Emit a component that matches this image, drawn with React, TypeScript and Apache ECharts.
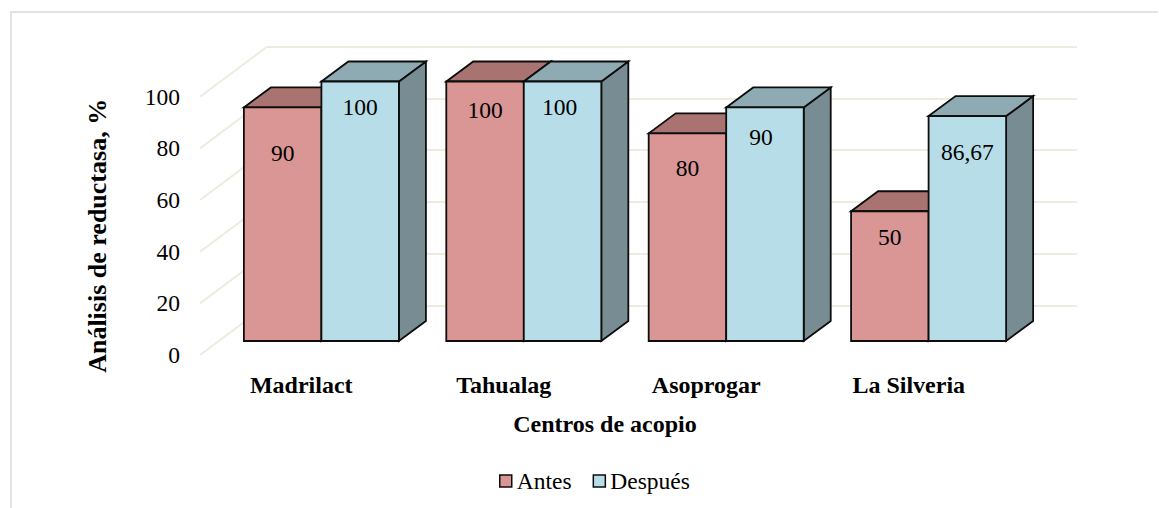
import React, { useEffect, useRef } from "react";
import * as echarts from "echarts";

const categories = ["Madrilact", "Tahualag", "Asoprogar", "La Silveria"];
const antes = [90, 100, 80, 50];
const despues = [100, 100, 90, 86.67];
const yTicks = [0, 20, 40, 60, 80, 100];

// Hand-placed label offsets (px from the bar's front-face top centre), as in the reference
const antesLabelDrop = [46, 28, 35, 26];
const antesLabelShift = [0, 0, 0, 0];
const despuesLabelDrop = [25.5, 25, 30, 36];
const despuesLabelShift = [0, -3, -4, 0];

const FONT = '"Liberation Serif", "Times New Roman", serif';
const FS = 23.5;
const FS_BOLD = 24;
const DEPTH_X = 27;
const DEPTH_Y = 20;
const WALL_X = 67;
const WALL_Y = 50;
const BAR_RATIO = 0.383;
const STROKE = { stroke: "#0d0d0d", lineWidth: 1.8, lineJoin: "miter" as const };
const GRIDLINE = "#eeecdf";

function barRenderer(side: number, front: string, top: string, right: string, drops: number[], shifts: number[]) {
  return (params: any, api: any) => {
    const i = api.value(0);
    const v = api.value(1);
    const [cx, yt] = api.coord([i, v]);
    const [, yb] = api.coord([i, 0]);
    const w = api.size([1, 0])[0] * BAR_RATIO;
    const x0 = side < 0 ? cx - w : cx;
    const x1 = x0 + w;
    const poly = (points: number[][], fill: string) => ({
      type: "polygon",
      shape: { points },
      style: { fill, ...STROKE },
    });
    return {
      type: "group",
      children: [
        poly([[x1, yt], [x1 + DEPTH_X, yt - DEPTH_Y], [x1 + DEPTH_X, yb - DEPTH_Y], [x1, yb]], right),
        poly([[x0, yt], [x0 + DEPTH_X, yt - DEPTH_Y], [x1 + DEPTH_X, yt - DEPTH_Y], [x1, yt]], top),
        poly([[x0, yt], [x1, yt], [x1, yb], [x0, yb]], front),
        {
          type: "text",
          x: (x0 + x1) / 2 + shifts[i],
          y: yt + drops[i],
          style: {
            text: String(v).replace(".", ","),
            align: "center",
            verticalAlign: "middle",
            textAlign: "center",
            textVerticalAlign: "middle",
            fill: "#000",
            fontSize: FS,
            fontFamily: FONT,
          },
        },
      ],
    };
  };
}

function wallRenderer(params: any, api: any) {
  const y = api.coord([0, api.value(0)])[1];
  const x = params.coordSys.x;
  return {
    type: "line",
    shape: { x1: x, y1: y, x2: x + WALL_X, y2: y - WALL_Y },
    style: { stroke: GRIDLINE, lineWidth: 2 },
  };
}

export default function App() {
  const ref = useRef<HTMLDivElement>(null);
  useEffect(() => {
    const chart = echarts.init(ref.current!, undefined, { renderer: "svg" });
    const hiddenCat = {
      type: "category" as const,
      data: categories,
      show: false,
    };
    chart.setOption({
      animation: false,
      backgroundColor: "#fff",
      textStyle: { fontFamily: FONT },
      graphic: [
        {
          type: "polyline",
          silent: true,
          shape: { points: [[11, 508], [11, 12], [1158, 12]] },
          style: { stroke: "#d9d9d9", lineWidth: 1.5, fill: "none" },
        },
      ],
      legend: {
        left: 494,
        top: 464,
        itemWidth: 12,
        itemHeight: 12,
        itemGap: 21,
        selectedMode: false,
        textStyle: { fontFamily: FONT, fontSize: FS, color: "#000" },
        data: [
          { name: "Antes", icon: "rect", itemStyle: { color: "#d99694", borderColor: "#0d0d0d", borderWidth: 1.5 } },
          { name: "Después", icon: "rect", itemStyle: { color: "#b7dee8", borderColor: "#0d0d0d", borderWidth: 1.5 } },
        ],
      },
      grid: [
        { left: 200, top: 96.7, width: 810, height: 258.3 },
        { left: 267, top: 46.7, width: 810, height: 258.8 },
        { left: 220.2, top: 81.5, width: 809.6, height: 259.5 },
      ],
      xAxis: [
        {
          type: "category",
          gridIndex: 0,
          data: categories,
          axisLine: { show: false },
          axisTick: { show: false },
          axisLabel: { margin: 18, fontFamily: FONT, fontSize: FS_BOLD, fontWeight: "bold", color: "#000", interval: 0 },
          name: "Centros de acopio",
          nameLocation: "middle",
          nameGap: 57,
          nameTextStyle: { fontFamily: FONT, fontSize: FS_BOLD, fontWeight: "bold", color: "#000" },
        },
        { ...hiddenCat, gridIndex: 1 },
        { ...hiddenCat, gridIndex: 2 },
      ],
      yAxis: [
        {
          type: "value",
          gridIndex: 0,
          min: 0,
          max: 100,
          interval: 20,
          axisLine: { show: false },
          axisTick: { show: false },
          splitLine: { show: false },
          axisLabel: { margin: 20, fontFamily: FONT, fontSize: FS, color: "#000" },
          name: "Análisis de reductasa, %",
          nameLocation: "middle",
          nameGap: 90,
          nameTextStyle: { fontFamily: FONT, fontSize: 26, fontWeight: "bold", color: "#000", padding: [0, 20, 0, 0] },
        },
        {
          type: "value",
          gridIndex: 1,
          min: 0,
          max: 100,
          interval: 20,
          axisLine: { show: false },
          axisTick: { show: false },
          axisLabel: { show: false },
          splitLine: { show: true, lineStyle: { color: GRIDLINE, width: 2 } },
        },
        {
          type: "value",
          gridIndex: 2,
          min: 0,
          max: 100,
          interval: 20,
          show: false,
          splitLine: { show: false },
        },
      ],
      series: [
        {
          type: "custom",
          name: "pared",
          xAxisIndex: 0,
          yAxisIndex: 0,
          silent: true,
          clip: false,
          data: yTicks.map((v) => [v]),
          encode: { y: 0 },
          renderItem: wallRenderer,
        },
        {
          type: "custom",
          name: "Antes",
          xAxisIndex: 2,
          yAxisIndex: 2,
          clip: false,
          itemStyle: { color: "#d99694" },
          data: antes.map((v, i) => [i, v]),
          encode: { x: 0, y: 1 },
          renderItem: barRenderer(-1, "#d99694", "#a87371", "#a87371", antesLabelDrop, antesLabelShift),
        },
        {
          type: "custom",
          name: "Después",
          xAxisIndex: 2,
          yAxisIndex: 2,
          clip: false,
          itemStyle: { color: "#b7dee8" },
          data: despues.map((v, i) => [i, v]),
          encode: { x: 0, y: 1 },
          renderItem: barRenderer(1, "#b7dee8", "#8eabb3", "#778d93", despuesLabelDrop, despuesLabelShift),
        },
      ],
    });
    return () => chart.dispose();
  }, []);
  return <div ref={ref} style={{ position: "absolute", left: 0, top: 0, width: 1159, height: 508 }} />;
}
